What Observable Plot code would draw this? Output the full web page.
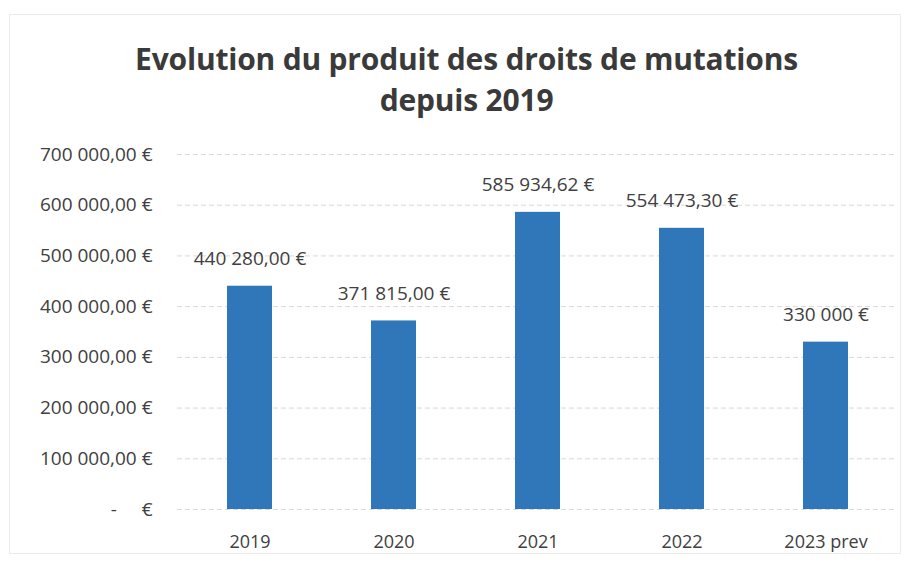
<!DOCTYPE html>
<html>
<head>
<meta charset="utf-8">
<script src="https://cdn.jsdelivr.net/npm/d3@7"></script>
<script src="https://cdn.jsdelivr.net/npm/@observablehq/plot@0.6"></script>
<style>
  html, body { margin: 0; padding: 0; background: #fff; }
  #wrap { position: relative; width: 911px; height: 562px; overflow: hidden; font-family: "Open Sans", sans-serif; color: #404040; }
  #frame { position: absolute; left: 9px; top: 14px; width: 892px; height: 540px; border: 1px solid #ececec; box-sizing: border-box; }
  #title { position: absolute; left: 0; top: 38px; width: 933px; text-align: center; font-weight: 700; font-size: 30px; line-height: 41px; color: #3a3a3a; letter-spacing: -0.2px; }
  #chart { position: absolute; left: 0; top: 130px; }
  #chart text { white-space: pre; }
</style>
</head>
<body>
<div id="wrap">
  <div id="frame"></div>
  <div id="title">Evolution du produit des droits de mutations<br>depuis 2019</div>
  <div id="chart"></div>
</div>
<script>
const years = ["2019", "2020", "2021", "2022", "2023 prev"];
const amounts = [440280.00, 371815.00, 585934.62, 554473.30, 330000];
const valueLabels = ["440 280,00 €", "371 815,00 €", "585 934,62 €", "554 473,30 €", "330 000 €"];
const yTicks = [0, 100000, 200000, 300000, 400000, 500000, 600000, 700000];

const data = years.map((y, i) => ({year: y, amount: amounts[i], label: valueLabels[i]}));

function euro(v) {
  if (v === 0) return "-     €";
  const s = v.toFixed(2).split(".");
  const int = s[0].replace(/\B(?=(\d{3})+(?!\d))/g, " ");
  return int + "," + s[1] + " €";
}

const chart = Plot.plot({
  width: 911,
  height: 431,
  marginTop: 24,
  marginBottom: 52,
  marginLeft: 177,
  marginRight: 14,
  style: { fontFamily: "Open Sans, sans-serif", fontSize: "18px", color: "#404040", background: "transparent" },
  x: { domain: years, paddingInner: 0.69, paddingOuter: 0.345, label: null },
  y: { domain: [0, 700000], ticks: yTicks, tickFormat: euro, label: null },
  marks: [
    Plot.gridY(yTicks, { stroke: "#d9d9d9", strokeOpacity: 1, strokeWidth: 1, strokeDasharray: "5,3" }),
    Plot.barY(data, { x: "year", y: "amount", fill: "#2f77b8" }),
    Plot.text(data, { x: "year", y: "amount", text: "label", dy: -27, fill: "#404040", fontSize: 19, letterSpacing: "-0.4px" }),
    Plot.axisX({ tickSize: 0, tickPadding: 26, fontSize: 18, fill: "#404040" }),
    Plot.axisY({ ticks: yTicks, tickFormat: euro, tickSize: 0, tickPadding: 25, fontSize: 19, fill: "#404040", letterSpacing: "-0.4px" })
  ]
});
document.getElementById("chart").appendChild(chart);
</script>
</body>
</html>
